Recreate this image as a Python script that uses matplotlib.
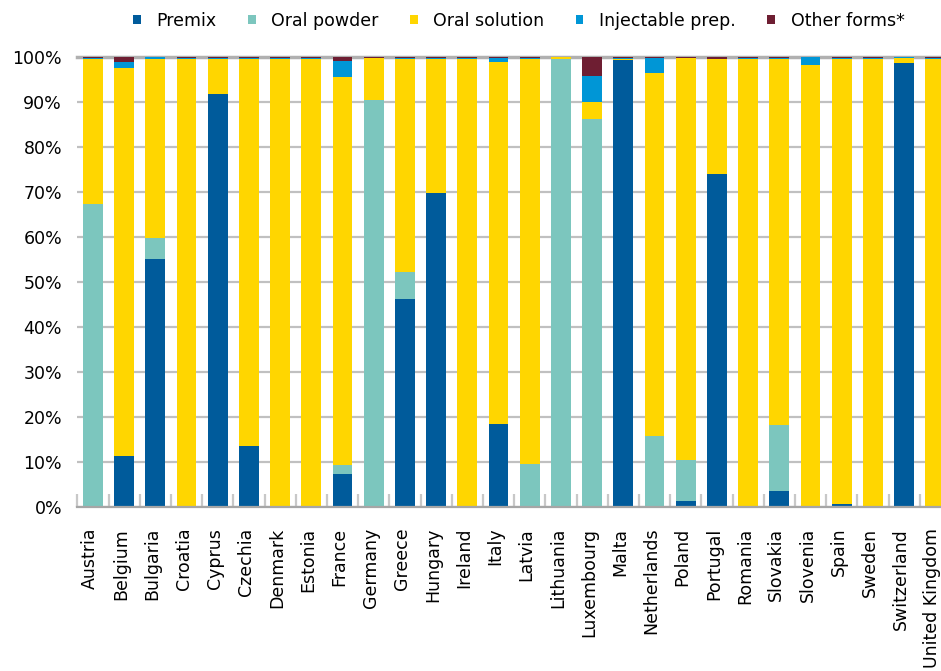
import numpy as np
import matplotlib
matplotlib.use("Agg")
import matplotlib.pyplot as plt
import matplotlib.transforms as mtransforms
from matplotlib.patches import Patch

# --- data (% of sales per pharmaceutical form) ---
countries = ["Austria", "Belgium", "Bulgaria", "Croatia", "Cyprus", "Czechia",
             "Denmark", "Estonia", "France", "Germany", "Greece", "Hungary",
             "Ireland", "Italy", "Latvia", "Lithuania", "Luxembourg", "Malta",
             "Netherlands", "Poland", "Portugal", "Romania", "Slovakia",
             "Slovenia", "Spain", "Sweden", "Switzerland", "United Kingdom"]

premix = [0, 11.3, 55.1, 0, 91.8, 13.6, 0, 0, 7.3, 0, 46.2, 69.8, 0, 18.4,
          0, 0, 0, 99.3, 0, 1.3, 74.0, 0, 3.5, 0, 0.6, 0, 98.7, 0]
oral_powder = [67.3, 0, 4.7, 0, 0, 0, 0, 0, 2.0, 90.4, 6.0, 0, 0, 0,
               9.6, 99.6, 86.2, 0, 15.8, 9.1, 0, 0, 14.7, 0, 0, 0, 0, 0]
oral_solution = [32.3, 86.3, 39.8, 99.6, 7.8, 86.0, 99.6, 99.6, 86.3, 9.3,
                 47.4, 29.8, 99.6, 80.5, 90.0, 0.4, 3.8, 0.3, 80.6, 89.4,
                 25.6, 99.6, 81.4, 98.2, 98.9, 99.6, 1.1, 99.6]
injectable = [0.2, 1.3, 0.4, 0.2, 0.2, 0.2, 0.2, 0.2, 3.6, 0, 0.2, 0.2, 0.2,
              0.9, 0.2, 0, 5.8, 0.2, 3.4, 0, 0, 0.2, 0.2, 1.8, 0.3, 0.2, 0.1, 0.2]
other_forms = [0.2, 1.1, 0, 0.2, 0.2, 0.2, 0.2, 0.2, 0.8, 0.3, 0.2, 0.2, 0.2,
               0.2, 0.2, 0, 4.2, 0.2, 0.2, 0.2, 0.4, 0.2, 0.2, 0, 0.2, 0.2, 0.1, 0.2]

series = [("Premix", premix, "#005b9b"),
          ("Oral powder", oral_powder, "#7cc6be"),
          ("Oral solution", oral_solution, "#ffd600"),
          ("Injectable prep.", injectable, "#0096d6"),
          ("Other forms*", other_forms, "#6e1e32")]

plt.rcParams["font.family"] = "DejaVu Sans"
fs = 12.5

fig = plt.figure(figsize=(9.41, 6.71), dpi=100)
ax = fig.add_axes([77.3 / 941, 1 - 507 / 671, 28 * 31.2 / 941, 450 / 671])

x = np.arange(len(countries))
bottom = np.zeros(len(countries))
for name, vals, col in series:
    vals = np.array(vals, dtype=float)
    ax.bar(x, vals, bottom=bottom, width=0.64, color=col, label=name,
           zorder=3, linewidth=0)
    bottom += vals

ax.set_xlim(-0.5, len(countries) - 0.5)
ax.set_ylim(0, 100)
ax.set_yticks(np.arange(0, 101, 10))
ax.set_yticklabels([f"{v}%" for v in range(0, 101, 10)], fontsize=fs)
ax.yaxis.grid(True, color="#c0c0c0", linewidth=1.6, zorder=0)
ax.tick_params(axis="y", length=0, pad=11)

ax.set_xticks(x)
ax.set_xticklabels(countries, rotation=90, fontsize=fs, va="top", ha="center")
ax.tick_params(axis="x", which="major", length=0, pad=15)
ax.set_xticks(np.arange(-0.5, len(countries), 1), minor=True)
ax.tick_params(axis="x", which="minor", direction="in", length=9.5,
               width=1.6, color="#c8c8c8")

# labels sit a touch left of the bar centres (keeps "United Kingdom" inside)
shift = mtransforms.ScaledTranslation(-3 / 100, 0, fig.dpi_scale_trans)
for lbl in ax.get_xticklabels():
    lbl.set_transform(lbl.get_transform() + shift)

for s in ["left", "right", "top"]:
    ax.spines[s].set_visible(False)
ax.spines["bottom"].set_color("#a6a6a6")
ax.spines["bottom"].set_linewidth(1.6)
ax.spines["bottom"].set_zorder(4)

# 100% line sits above the plot area edge
ax.axhline(100, color="#b0b0b0", linewidth=2.5, zorder=2, clip_on=False)

handles = [Patch(facecolor=c, edgecolor="none") for _, _, c in series]
labels = [n for n, _, _ in series]
fig.legend(handles, labels, loc="center left", ncol=5, frameon=False,
           bbox_to_anchor=(126 / 941, 1 - 21 / 671), fontsize=fs,
           handlelength=0.45, handleheight=0.45, handletextpad=0.9,
           columnspacing=1.8, borderaxespad=0)

fig.savefig("out.png", dpi=100)
